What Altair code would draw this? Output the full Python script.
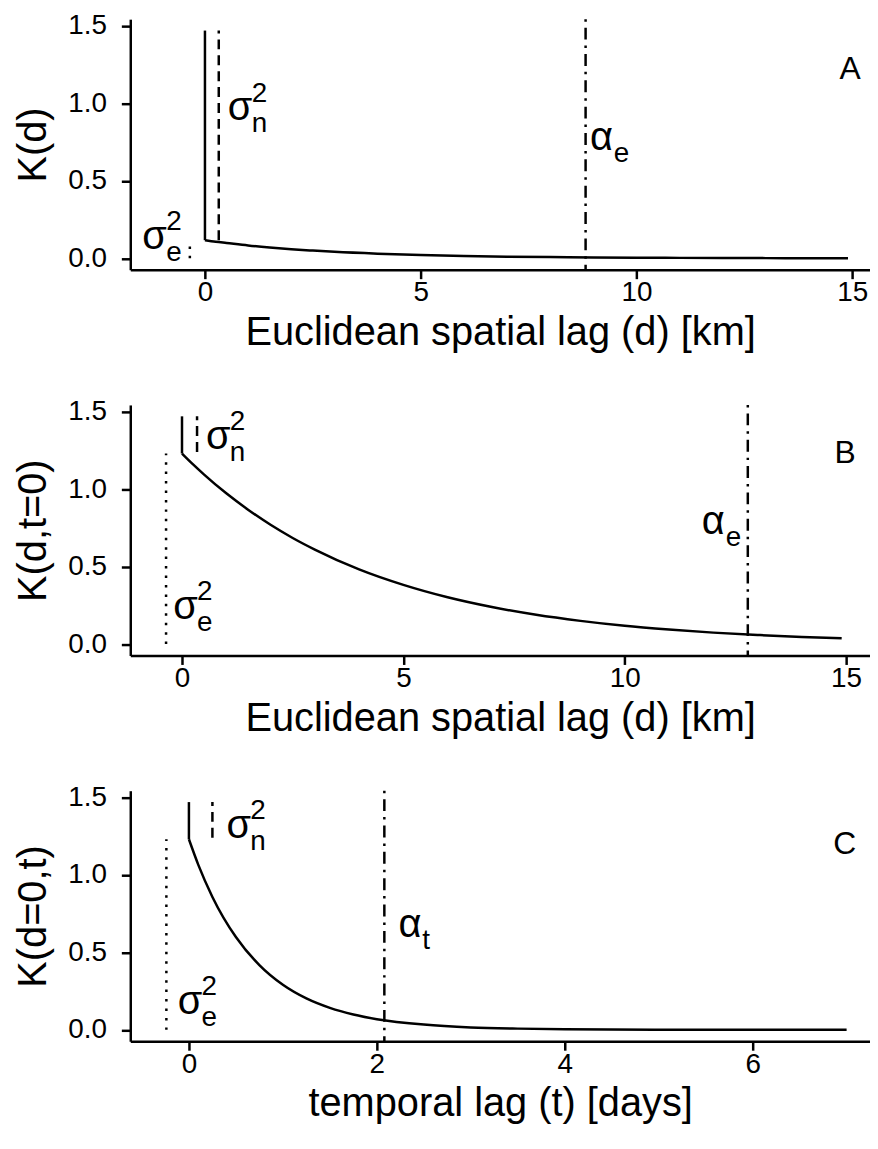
import altair as alt
import pandas as pd

FONT = "Liberation Sans"

# ---------------- data ----------------
# Panel A: spatial covariance K(d)
dA = [0, 0.25, 0.5, 1, 1.5, 2, 2.5, 3, 4, 5, 6, 7, 8, 9, 10, 11, 12, 13, 14, 14.9]
kA = [0.117, 0.107, 0.099, 0.083, 0.070, 0.059, 0.050, 0.042, 0.030, 0.021,
      0.015, 0.011, 0.008, 0.0055, 0.004, 0.003, 0.002, 0.0014, 0.001, 0.0007]
A_total = 1.47
A_psill = 0.117
A_nug_x = 0.32
A_psill_x = -0.35
A_alpha = 8.82

# Panel B: K(d, t=0)
dB = [0, 0.25, 0.5, 1, 1.5, 2, 2.5, 3, 4, 5, 6, 7, 8, 9, 10, 11, 12, 13, 14, 14.9]
kB = [1.230, 1.160, 1.094, 0.973, 0.866, 0.770, 0.685, 0.610, 0.482, 0.382,
      0.302, 0.239, 0.189, 0.150, 0.118, 0.094, 0.074, 0.059, 0.046, 0.038]
B_total = 1.47
B_psill = 1.23
B_nug_x = 0.34
B_psill_x = -0.36
B_alpha = 12.78

# Panel C: K(d=0, t)
tC = [0, 0.1, 0.25, 0.5, 0.75, 1, 1.25, 1.5, 1.75, 2, 2.5, 3, 3.5, 4, 5, 6, 7]
kC = [1.230, 1.065, 0.858, 0.599, 0.418, 0.291, 0.203, 0.142, 0.099, 0.069,
      0.034, 0.016, 0.008, 0.004, 0.001, 0.0002, 0.0]
C_total = 1.47
C_psill = 1.23
C_nug_x = 0.25
C_psill_x = -0.24
C_alpha = 2.08

yticks = [0, 0.5, 1.0, 1.5]

W = 744
H = 252
YDOM = [-0.0735, 1.5435]
LW = 2.5


def axis_x(values, title):
    return alt.Axis(values=values, title=title, grid=False, format="d",
                    domainColor="black", domainWidth=LW, tickColor="black",
                    tickWidth=LW, tickSize=9, labelFont=FONT, labelFontSize=28,
                    labelColor="black", labelPadding=0, labelFlush=False,
                    titleFont=FONT, titleFontSize=40, titleFontWeight="normal",
                    titleColor="black", titleY=75, titleBaseline="alphabetic")


def axis_y(title):
    return alt.Axis(values=yticks, title=title, grid=False, format=".1f",
                    domainColor="black", domainWidth=LW, tickColor="black",
                    tickWidth=LW, tickSize=9, labelFont=FONT, labelFontSize=28,
                    labelColor="black", labelPadding=15, labelFlush=False,
                    titleFont=FONT, titleFontSize=40, titleFontWeight="normal",
                    titleColor="black", titlePadding=14)


def panel(cx, cy, xdom, xticks, xtitle, ytitle, total, psill, nug_x, psill_x,
          alpha_x, nug_lo, ann, letter):
    xs = alt.Scale(domain=xdom, nice=False, zero=False)
    ys = alt.Scale(domain=YDOM, nice=False, zero=False)
    ax = axis_x(xticks, xtitle)
    ay = axis_y(ytitle)

    def X(f="x:Q"):
        return alt.X(f, scale=xs, axis=ax)

    def Y(f="y:Q"):
        return alt.Y(f, scale=ys, axis=ay)

    curve = alt.Chart(pd.DataFrame({"x": cx, "y": cy})).mark_line(
        color="black", strokeWidth=LW, interpolate="monotone"
    ).encode(x=X(), y=Y())

    def seg(df, dash):
        kw = dict(color="black", strokeWidth=LW)
        if dash is not None:
            kw["strokeDash"] = dash
        return alt.Chart(df).mark_rule(**kw).encode(x=X(), y=Y(), y2="y2:Q")

    solid = seg(pd.DataFrame({"x": [0], "y": [psill], "y2": [total]}), None)
    dashed = seg(pd.DataFrame({"x": [nug_x], "y": [nug_lo], "y2": [total]}), [10, 6])
    dotted = seg(pd.DataFrame({"x": [psill_x], "y": [0], "y2": [psill]}), [2.5, 7])
    dashdot = alt.Chart(pd.DataFrame({"x": [alpha_x]})).mark_rule(
        color="black", strokeWidth=LW, strokeDash=[2.5, 6, 12, 6]
    ).encode(x=X())

    adf = pd.DataFrame(ann)
    base = alt.Chart(adf).encode(x=X(), y=Y())
    sym = base.mark_text(font=FONT, fontSize=40, align="left",
                         baseline="alphabetic", color="black").encode(text="sym:N")
    sup = base.mark_text(font=FONT, fontSize=28, align="left", dx=24, dy=-19,
                         baseline="alphabetic", color="black").encode(text="sup:N")
    sub = base.mark_text(font=FONT, fontSize=28, align="left", dx=24, dy=12,
                         baseline="alphabetic", color="black").encode(text="sub:N")

    ldf = pd.DataFrame({"x": [letter[1]], "y": [letter[2]], "t": [letter[0]]})
    lab = alt.Chart(ldf).mark_text(font=FONT, fontSize=32, align="center",
                                   baseline="middle", color="black").encode(
        x=X(), y=Y(), text="t:N")

    return alt.layer(curve, solid, dashed, dotted, dashdot, sym, sup, sub, lab).properties(
        width=W, height=H)


annA = {"x": [0.53, -1.45, 8.92], "y": [0.89, 0.06, 0.70],
        "sym": ["σ", "σ", "α"], "sup": ["2", "2", ""], "sub": ["n", "e", "e"]}
annB = {"x": [0.54, -0.20, 11.74], "y": [1.26, 0.164, 0.71],
        "sym": ["σ", "σ", "α"], "sup": ["2", "2", ""], "sub": ["n", "e", "e"]}
annC = {"x": [0.40, -0.12, 2.23], "y": [1.24, 0.10, 0.60],
        "sym": ["σ", "σ", "α"], "sup": ["2", "2", ""], "sub": ["n", "e", "t"]}

pA = panel(dA, kA, [-1.73, 15.41], [0, 5, 10, 15], "Euclidean spatial lag (d) [km]",
           "K(d)", A_total, A_psill, A_nug_x, A_psill_x, A_alpha, A_psill, annA,
           ("A", 14.95, 1.22))
pB = panel(dB, kB, [-1.168, 15.54], [0, 5, 10, 15], "Euclidean spatial lag (d) [km]",
           "K(d,t=0)", B_total, B_psill, B_nug_x, B_psill_x, B_alpha, 1.24, annB,
           ("B", 14.98, 1.23))
pC = panel(tC, kC, [-0.624, 7.249], [0, 2, 4, 6], "temporal lag (t) [days]",
           "K(d=0,t)", C_total, C_psill, C_nug_x, C_psill_x, C_alpha, 1.24, annC,
           ("C", 6.98, 1.20))

chart = alt.vconcat(pA, pB, pC, spacing=136, bounds="flush").configure_view(
    stroke=None
).properties(padding={"left": 6, "top": 0, "right": 0, "bottom": 0}, background="white")

chart.save("out.html", embed_options={"renderer": "svg", "actions": False})
